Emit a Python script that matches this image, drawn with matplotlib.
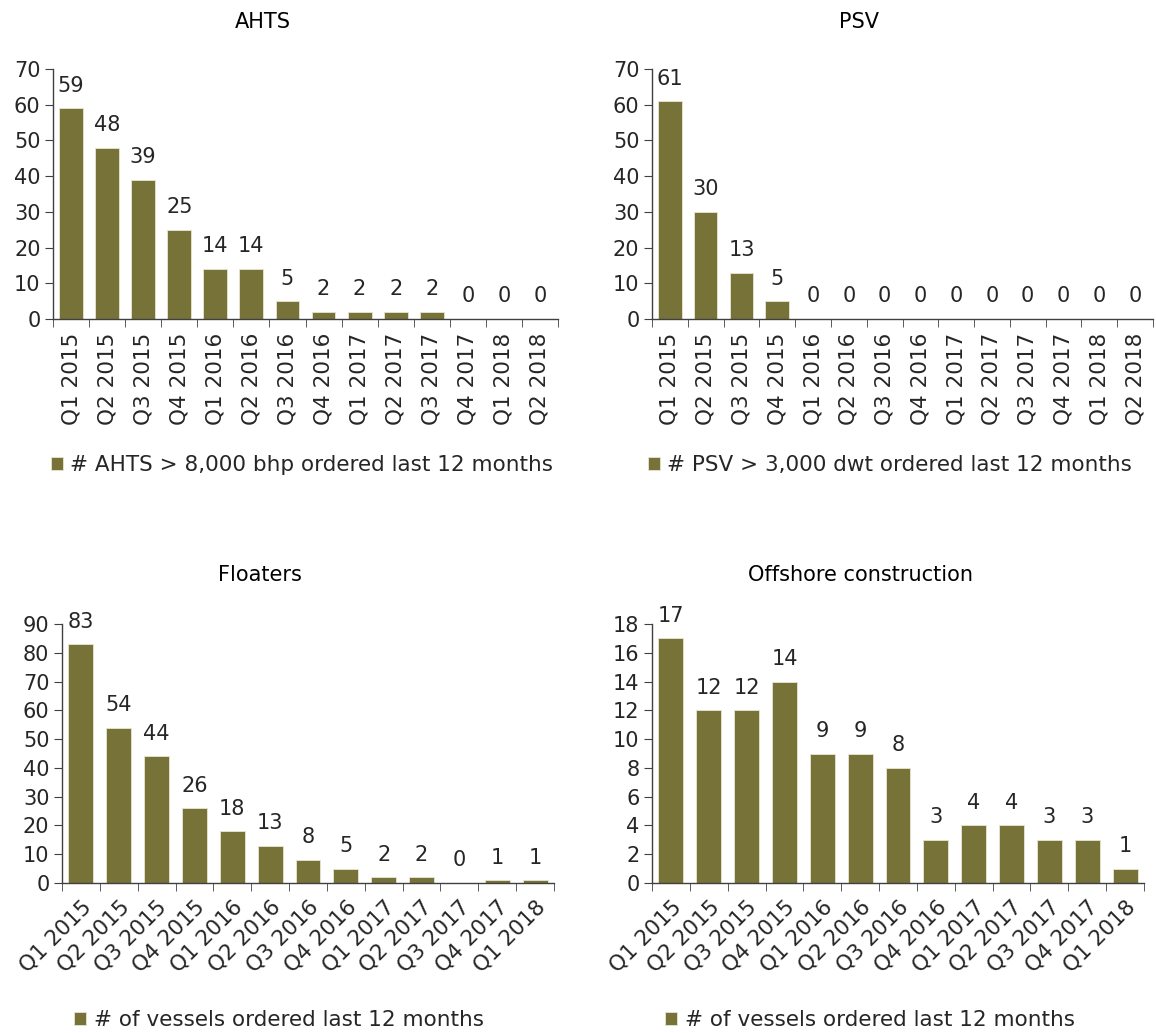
import matplotlib
matplotlib.use('Agg')
import matplotlib.pyplot as plt
import numpy as np

# quarters
quarters_a = ['Q1 2015', 'Q2 2015', 'Q3 2015', 'Q4 2015', 'Q1 2016', 'Q2 2016', 'Q3 2016',
              'Q4 2016', 'Q1 2017', 'Q2 2017', 'Q3 2017', 'Q4 2017', 'Q1 2018', 'Q2 2018']
quarters_b = quarters_a[:13]

ahts = [59, 48, 39, 25, 14, 14, 5, 2, 2, 2, 2, 0, 0, 0]
psv = [61, 30, 13, 5, 0, 0, 0, 0, 0, 0, 0, 0, 0, 0]
floaters = [83, 54, 44, 26, 18, 13, 8, 5, 2, 2, 0, 1, 1]
offshore = [17, 12, 12, 14, 9, 9, 8, 3, 4, 4, 3, 3, 1]

bar_color = '#767238'
text_color = '#262626'
axis_color = '#404040'

W, H = 1156, 1033
fig = plt.figure(figsize=(W / 100, H / 100), dpi=100)
plt.rcParams['font.family'] = 'DejaVu Sans'


def px_axes(left, right, top, bottom):
    return fig.add_axes([left / W, 1 - bottom / H, (right - left) / W, (bottom - top) / H])


def draw(ax, cats, vals, ymax, ystep, rot, title, title_xy, legend_label, legend_xy):
    x = np.arange(len(cats))
    ax.bar(x, vals, width=0.66, color=bar_color, edgecolor='#e8e6d0', linewidth=0.6,
           label=legend_label)
    for xi, v in zip(x, vals):
        ax.annotate(str(v), (xi, v), xytext=(0, 9), textcoords='offset points',
                    ha='center', va='bottom', fontsize=15, color=text_color)
    ax.set_xlim(-0.5, len(cats) - 0.5)
    ax.set_ylim(0, ymax)
    ax.set_yticks(np.arange(0, ymax + 1, ystep))
    ax.set_xticks(x)
    if rot == 90:
        ax.set_xticklabels(cats, rotation=90, fontsize=15.5, color=text_color)
    else:
        ax.set_xticklabels(cats, rotation=45, ha='right', rotation_mode='anchor',
                           fontsize=15.5, color=text_color)
    ax.set_xticks(np.arange(-0.5, len(cats), 1), minor=True)
    ax.tick_params(axis='x', which='major', length=0, pad=10)
    ax.tick_params(axis='x', which='minor', length=6, color=axis_color, direction='out')
    ax.tick_params(axis='y', length=6, color=axis_color, labelsize=15, labelcolor=text_color, pad=3)
    for s in ['top', 'right']:
        ax.spines[s].set_visible(False)
    for s in ['left', 'bottom']:
        ax.spines[s].set_color(axis_color)
        ax.spines[s].set_linewidth(1.0)
    fig.text(title_xy[0] / W, 1 - title_xy[1] / H, title, ha='center', va='center',
             fontsize=15, color='black')
    ax.legend(loc='center', bbox_to_anchor=(legend_xy[0] / W, 1 - legend_xy[1] / H),
              bbox_transform=fig.transFigure, frameon=False, fontsize=15.5,
              handlelength=0.55, handleheight=0.55, handletextpad=0.35, labelcolor=text_color)


ax1 = px_axes(53, 558, 69, 319)
draw(ax1, quarters_a, ahts, 70, 10, 90, 'AHTS', (263, 22),
     '# AHTS > 8,000 bhp ordered last 12 months', (302, 465))

ax2 = px_axes(652, 1153, 69, 319)
draw(ax2, quarters_a, psv, 70, 10, 90, 'PSV', (859, 22),
     '# PSV > 3,000 dwt ordered last 12 months', (890, 465))

ax3 = px_axes(62, 554, 624, 883)
draw(ax3, quarters_b, floaters, 90, 10, 45, 'Floaters', (260, 575),
     '# of vessels ordered last 12 months', (279, 1020))

ax4 = px_axes(652, 1144, 624, 883)
draw(ax4, quarters_b, offshore, 18, 2, 45, 'Offshore construction', (860, 575),
     '# of vessels ordered last 12 months', (870, 1020))

fig.savefig('out.png', dpi=100, facecolor='white')
